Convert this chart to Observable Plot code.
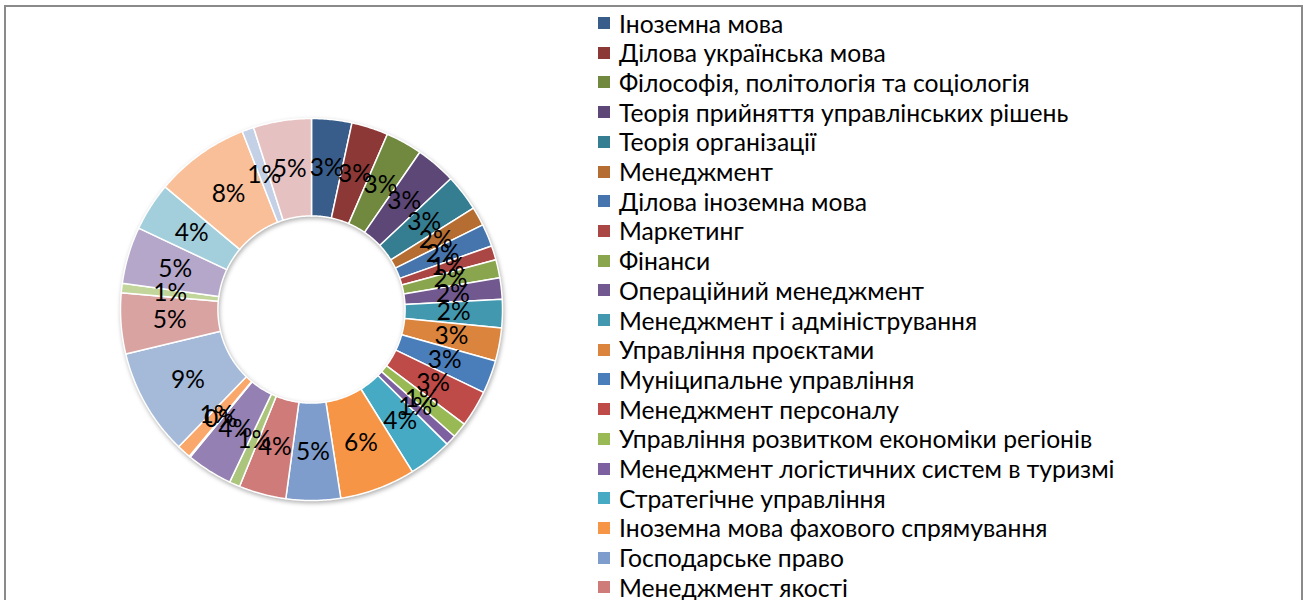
<!DOCTYPE html>
<html><head><meta charset="utf-8">
<script src="https://cdn.jsdelivr.net/npm/d3@7"></script>
<script src="https://cdn.jsdelivr.net/npm/@observablehq/plot@0.6"></script>
<style>
html,body{margin:0;padding:0;background:#fff;}
#wrap{position:relative;width:1303px;height:600px;overflow:hidden;font-family:Lato,"Open Sans",sans-serif;}
#chart{position:absolute;left:0;top:0;}
#chart svg{background:transparent;}
#frame{position:absolute;left:4px;top:5px;width:1299px;height:700px;border:2px solid #8a8a8a;box-sizing:border-box;pointer-events:none;}
#legend{position:absolute;left:598px;top:0;}
.item{position:absolute;left:0;height:30px;display:flex;align-items:center;white-space:nowrap;font-size:24.7px;color:#000;}
.sw{width:12px;height:12px;margin-right:9px;flex:none;}
</style>
</head><body>
<div id="wrap"><div id="chart"></div><div id="legend"></div><div id="frame"></div></div>
<script>
// Legend labels (visible part of the legend)
const categories = [
  "Іноземна мова",
  "Ділова українська мова",
  "Філософія, політологія та соціологія",
  "Теорія прийняття управлінських рішень",
  "Теорія організації",
  "Менеджмент",
  "Ділова іноземна мова",
  "Маркетинг",
  "Фінанси",
  "Операційний менеджмент",
  "Менеджмент і адміністрування",
  "Управління проєктами",
  "Муніципальне управління",
  "Менеджмент персоналу",
  "Управління розвитком економіки регіонів",
  "Менеджмент логістичних систем в туризмі",
  "Стратегічне управління",
  "Іноземна мова фахового спрямування",
  "Господарське право",
  "Менеджмент якості"
];
// Slice shares (%), clockwise from 12 o'clock (32 slices)
const values = [3.4, 3.1, 3.1, 3.4, 3.1, 1.6, 1.9, 1.2, 1.55, 1.8,
                2.4, 2.8, 2.8, 3.1, 1.3, 0.9, 3.7, 6.4, 4.6, 4.0,
                0.9, 3.9, 0.1, 1.2, 9.0, 5.15, 0.8, 4.8, 4.1, 8.0,
                1.0, 4.9];
const palette = ["#385D8A","#8C3836","#71893F","#5C4776","#357D91","#B66D31",
                 "#4675AE","#AA4643","#89A54E","#71588F","#4198AF","#DB843D",
                 "#4A7EBB","#BE4B48","#98B954","#7D60A0","#46AAC5","#F69546",
                 "#7E9DCC","#CF7B79","#ACC57D","#9580B3","#5DB7D0","#F9A76A",
                 "#A5B9D9","#D9A3A2","#C2D69B","#B4A7CA","#A3CEDC","#F9BF98",
                 "#C4D0E6","#E6C1C2"];

const inner = 0.49;
const total = d3.sum(values);
const arcs = d3.pie().sort(null).value(d => d)(values);
const pts = [];
const labels = [];
arcs.forEach((a, i) => {
  const n = Math.max(2, Math.ceil((a.endAngle - a.startAngle) / 0.01));
  for (let k = 0; k <= n; k++) {
    const t = a.startAngle + (a.endAngle - a.startAngle) * k / n;
    pts.push({i, x: Math.sin(t), y: Math.cos(t)});
  }
  for (let k = n; k >= 0; k--) {
    const t = a.startAngle + (a.endAngle - a.startAngle) * k / n;
    pts.push({i, x: inner * Math.sin(t), y: inner * Math.cos(t)});
  }
  const m = (a.startAngle + a.endAngle) / 2, r = (1 + inner) / 2;
  labels.push({i, x: r * Math.sin(m), y: r * Math.cos(m), text: Math.round(values[i] / total * 100) + "%"});
});

const plot = Plot.plot({
  width: 1303, height: 600, margin: 0,
  x: {domain: [-1, 1], range: [120, 502], axis: null},
  y: {domain: [-1, 1], range: [500, 118], axis: null},
  color: {type: "ordinal", domain: d3.range(values.length), range: palette},
  marks: [
    Plot.line(pts, {x: "x", y: "y", z: "i", fill: "i", stroke: "white", strokeWidth: 1.5, curve: "linear-closed"}),
    Plot.text(labels, {x: "x", y: "y", text: "text", fontSize: 24.5, fill: "black", fontFamily: "Lato"})
  ]
});
const g = plot.querySelector('g[aria-label="line"]');
if (g) g.style.filter = "drop-shadow(1px 2px 2px rgba(0,0,0,0.3))";
document.getElementById("chart").appendChild(plot);

const leg = document.getElementById("legend");
categories.forEach((c, i) => {
  const d = document.createElement("div");
  d.className = "item";
  d.style.top = (8 + i * 29.7) + "px";
  const s = document.createElement("span");
  s.className = "sw";
  s.style.background = palette[i];
  const t = document.createElement("span");
  t.textContent = c;
  d.appendChild(s); d.appendChild(t);
  leg.appendChild(d);
});
</script>
</body></html>
